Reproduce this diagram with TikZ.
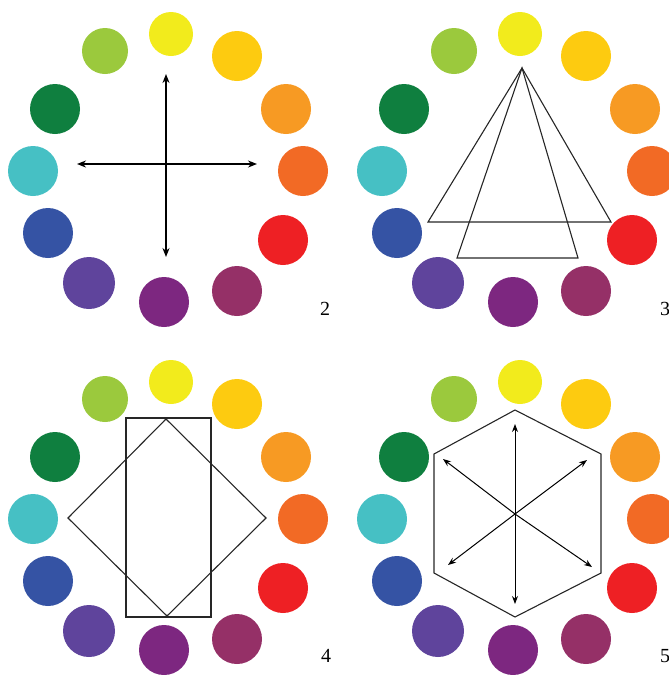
\documentclass[tikz,border=0pt]{standalone}
\usepackage{fontspec}
\setmainfont{Liberation Serif}
\usetikzlibrary{arrows.meta}
\definecolor{cY}{HTML}{F2EB1C}
\definecolor{cYO}{HTML}{FDCB10}
\definecolor{cO}{HTML}{F79A23}
\definecolor{cRO}{HTML}{F26A25}
\definecolor{cR}{HTML}{EE2024}
\definecolor{cRV}{HTML}{953067}
\definecolor{cV}{HTML}{7D2780}
\definecolor{cBV}{HTML}{5F449C}
\definecolor{cB}{HTML}{3553A4}
\definecolor{cC}{HTML}{46C0C4}
\definecolor{cG}{HTML}{0F7F3F}
\definecolor{cYG}{HTML}{9BC93D}
\tikzset{
  dot/.style={circle,inner sep=0pt,draw=none},
  figline/.style={draw=black!85,line width=1.1pt,line join=miter},
  arr/.style={draw=black,line width=1pt,-{Stealth[length=8pt,width=6pt]}},
  numlabel/.style={font=\fontsize{20}{20}\selectfont,inner sep=0pt}
}
\begin{document}
\begin{tikzpicture}[x=1pt,y=-1pt]
\useasboundingbox (0,0) rectangle (669,675);
\clip (0,0) rectangle (669,675);
\foreach \dx/\dy/\w in {0/0/a,349/0/b,0/348/c,349/348/d}{
  \foreach \n/\x/\y/\r/\c in {Y/171/34/22/cY, YO/237/56/25/cYO, O/286/109/25/cO, RO/303/171/25/cRO, R/283/240/25/cR, RV/237/291/25/cRV, V/164/302/25/cV, BV/89/283/26/cBV, B/48/233/25/cB, C/33/171/25/cC, G/55/109/25/cG, YG/105/51/23/cYG}{
    \node[dot,fill=\c,minimum size={2*\r pt}] (\w\n) at (\x+\dx,\y+\dy) {};
  }
}
% wheel 2: cross
\coordinate (aCen) at (166,164);
\coordinate (aL) at (77,164);
\coordinate (aRt) at (257,164);
\coordinate (aT) at (166,74);
\coordinate (aBt) at (166,257);
\foreach \t in {aL,aRt,aT,aBt}{
  \draw[arr,line width=1.6pt,-{Stealth[length=9pt,width=7pt]}] (aCen) -- (\t);
}
\node[numlabel] (l2) at (325,309) {2};
% wheel 3: two triangles
\coordinate (bApex) at (522,68);
\coordinate (bT1L) at (428,222);
\coordinate (bT1R) at (611,222);
\coordinate (bT2L) at (457,258);
\coordinate (bT2R) at (578,258);
\draw[figline] (bApex) -- (bT1L) -- (bT1R) -- cycle;
\draw[figline] (bApex) -- (bT2L) -- (bT2R) -- cycle;
\node[numlabel] (l3) at (665,309) {3};
% wheel 4: rectangle and diamond
\coordinate (cR1) at (126,418);
\coordinate (cR2) at (211,617);
\draw[figline] (cR1) rectangle (cR2);
\coordinate (cDT) at (166,419);
\coordinate (cDR) at (266,518);
\coordinate (cDB) at (167,616);
\coordinate (cDL) at (68,518);
\draw[figline] (cDT) -- (cDR) -- (cDB) -- (cDL) -- cycle;
\node[numlabel] (l4) at (326,656) {4};
% wheel 5: hexagon and arrows
\coordinate (dH1) at (515,410);
\coordinate (dH2) at (601,454);
\coordinate (dH3) at (601,573);
\coordinate (dH4) at (515,617);
\coordinate (dH5) at (434,573);
\coordinate (dH6) at (434,454);
\draw[figline] (dH1) -- (dH2) -- (dH3) -- (dH4) -- (dH5) -- (dH6) -- cycle;
\coordinate (dCen) at (515,514);
\coordinate (dA1) at (515,424);
\coordinate (dA2) at (515,604);
\coordinate (dA3) at (443,459);
\coordinate (dA4) at (592,567);
\coordinate (dA5) at (587,460);
\coordinate (dA6) at (448,565);
\foreach \t in {dA1,dA2,dA3,dA4,dA5,dA6}{
  \draw[arr] (dCen) -- (\t);
}
\node[numlabel] (l5) at (665,656) {5};
\end{tikzpicture}
\end{document}
